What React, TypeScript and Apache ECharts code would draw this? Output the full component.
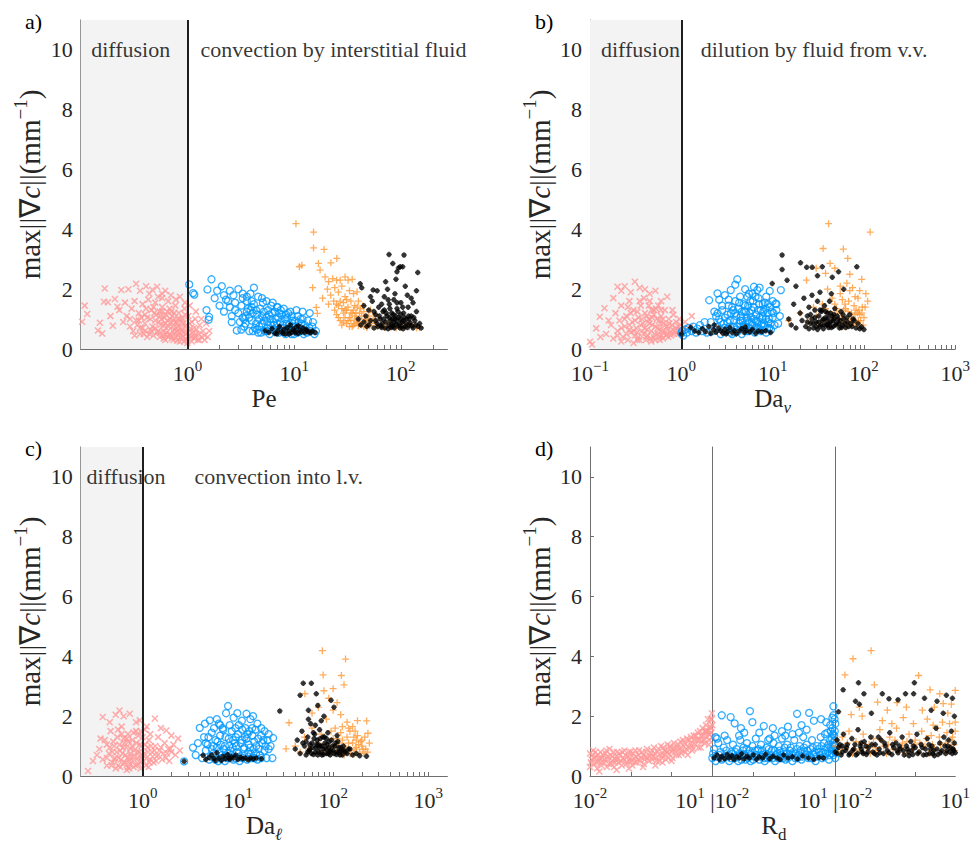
import React, { useEffect, useRef } from 'react';
import * as echarts from 'echarts';

const FONT = 'Liberation Serif';
const INK = '#262626';
const AXIS = '#6e6e6e';
const PINK = '#ff9999';
const BLUE = '#0099ff';
const ORANGE = '#ff9933';
const BLACK = '#000000';

// ---------- panel a : Pe ----------
const aPink = [[0.103,0.91],[0.109,1.45],[0.115,1.17],[0.168,2.02],[0.165,1.58],[0.18,1.56],[0.151,0.88],[0.159,0.52],[0.24,1.97],[0.209,1.67],[0.221,1.41],[0.145,0.62],[0.19,1.1],[0.2,0.78],[0.23,1.3],[0.26,1.55],[0.28,2.0],[0.33,2.18],[0.36,1.95],[0.41,2.1],[0.47,1.98],[0.52,2.08],[0.58,1.85],[0.62,1.95],[0.7,1.8],[0.78,1.65],[0.85,1.75],[0.95,1.55],[1.05,1.45],[1.2,1.25],[1.35,1.0],[1.5,0.85],[1.6,0.6],[1.45,0.45],[1.3,0.3],[1.15,0.35],
[0.25,0.9],[0.27,1.1],[0.29,0.75],[0.3,1.35],[0.31,0.6],[0.33,0.95],[0.35,1.2],[0.36,0.7],[0.38,1.5],[0.39,0.5],[0.4,0.85],[0.42,1.05],[0.43,1.65],[0.45,0.65],[0.46,1.3],[0.48,0.45],[0.5,0.95],[0.51,1.15],[0.53,1.75],[0.55,0.55],[0.56,0.8],[0.58,1.4],[0.6,0.35],[0.61,1.05],[0.63,0.7],[0.65,1.25],[0.66,1.6],[0.68,0.5],[0.7,0.9],[0.72,1.1],[0.74,0.3],[0.75,0.65],[0.77,1.45],[0.8,0.85],[0.82,0.45],[0.83,1.2],[0.85,0.25],[0.87,0.7],[0.9,1.0],[0.92,0.55],[0.94,1.35],[0.96,0.35],[0.98,0.8],[1.0,0.2],[1.02,1.1],[1.05,0.6],[1.08,0.4],[1.1,0.9],[1.15,0.7],[1.2,0.5],[1.25,0.3],[1.3,0.8],[1.4,0.6],[1.55,0.4],
[0.45,1.0],[0.5,0.7],[0.55,1.25],[0.6,0.6],[0.65,0.95],[0.7,0.45],[0.75,1.2],[0.8,0.6],[0.85,1.0],[0.9,0.4],[0.95,0.75],[1.0,0.55],[0.38,0.7],[0.42,0.4],[0.62,0.85],[0.72,0.75],[0.88,0.9],[0.78,0.4],[0.68,1.35],[0.57,1.0],[0.48,1.4],[0.35,0.95],[0.32,1.6],[0.44,1.85],[0.5,1.55],[0.58,1.7],[0.62,0.48],[1.1,0.25],[0.93,0.25],[0.8,0.28],[1.18,1.0],[1.05,0.85],
[0.32,0.45],[0.34,0.8],[0.37,1.05],[0.4,0.6],[0.41,1.35],[0.44,0.5],[0.47,0.75],[0.49,1.2],[0.52,0.55],[0.54,0.9],[0.56,1.1],[0.59,0.45],[0.6,0.8],[0.63,1.15],[0.64,0.55],[0.67,0.75],[0.69,1.0],[0.71,0.35],[0.73,0.6],[0.74,0.95],[0.76,0.5],[0.79,0.7],[0.81,1.0],[0.84,0.55],[0.86,0.38],[0.89,0.6],[0.91,0.85],[0.97,0.5],[0.99,0.3],[1.03,0.45],[1.07,0.7],[1.12,0.55],[1.17,0.4],[1.22,0.65],[1.28,0.5],[1.35,0.4],[1.45,0.3],[0.53,0.6],[0.66,0.4],[0.58,1.25],[0.46,0.6],[0.36,0.5],[0.29,1.0],[0.71,1.25],[0.82,0.75],[0.95,1.15],[0.4,1.15],[0.55,0.4],[0.78,0.9],[0.62,0.3]];

const aBlue = [[1.04,2.16],[1.13,1.87],[1.16,1.82],[1.51,1.3],[1.6,1.07],[1.58,0.98],[1.68,2.33],[1.54,1.99],[1.8,1.7],[1.9,1.95],[2.1,2.1],[2.3,1.65],[2.0,1.45],[2.2,1.25],[2.5,1.95],[2.7,1.8],[2.8,1.55],[2.5,1.4],[2.9,0.62],[2.6,0.9],[3.0,2.0],[3.3,1.85],[3.6,1.75],[4.2,2.05],[4.0,1.6],[5.0,1.7],[5.5,1.6],[6.3,1.55],[7.0,1.4],[8.0,1.35],[9.2,1.25],[10.5,1.3],[12.0,1.25],[14.0,1.2],[15.0,0.9],[16.0,0.6],[15.5,0.5],
[3.0,1.2],[3.1,0.9],[3.2,1.45],[3.4,0.75],[3.5,1.1],[3.6,1.6],[3.8,0.6],[3.9,1.3],[4.0,0.95],[4.2,1.5],[4.3,0.7],[4.5,1.15],[4.6,0.55],[4.8,1.35],[5.0,0.85],[5.1,1.55],[5.3,0.6],[5.5,1.05],[5.7,1.3],[5.9,0.5],[6.0,0.8],[6.2,1.2],[6.5,0.65],[6.7,1.0],[6.9,1.4],[7.2,0.55],[7.4,0.9],[7.7,1.15],[8.0,0.7],[8.3,0.5],[8.6,1.05],[9.0,0.8],[9.3,0.6],[9.6,0.95],[10.0,0.5],[10.4,0.75],[10.8,1.1],[11.2,0.6],[11.7,0.85],[12.3,0.5],[12.8,0.7],[13.5,0.95],[14.2,0.6],[14.8,0.75],[2.6,1.1],[2.8,1.3],[3.3,1.7],[3.7,1.35],[4.1,1.2],[4.4,0.85],[4.7,1.0],[5.2,1.25],[5.6,0.7],[6.1,1.45],[6.6,1.25],[7.0,0.85],[7.5,1.3],[8.2,1.0],[8.8,1.2],[9.5,1.1],[10.2,0.95],[11.0,0.9],[12.0,1.0],[3.4,1.0],[2.4,1.6],[2.2,1.8],[3.9,1.85],[4.6,1.75],
[3.2,0.65],[3.5,0.85],[3.8,1.05],[4.1,0.6],[4.4,1.3],[4.7,0.75],[4.9,0.55],[5.2,0.95],[5.4,0.6],[5.8,1.15],[6.1,0.65],[6.4,0.9],[6.8,0.6],[7.1,1.05],[7.5,0.6],[7.8,0.8],[8.1,0.55],[8.5,0.85],[8.9,0.65],[9.4,0.5],[9.8,0.75],[10.3,0.65],[10.7,0.55],[11.4,0.7],[12.0,0.6],[12.6,0.8],[13.2,0.55],[13.9,0.7],[4.0,1.4],[5.0,1.1],[6.0,1.0],[7.3,1.2],[8.4,1.15],[9.7,0.85],[11.5,1.0],[3.6,1.25],[4.5,0.65],[5.6,0.9],[6.5,0.8],[3.3,1.05]];

const aBlackLow = [[5.35,0.61],[5.8,0.55],[6.2,0.68],[6.6,0.52],[7.0,0.62],[7.3,0.75],[7.6,0.57],[8.0,0.66],[8.3,0.5],[8.6,0.72],[8.9,0.6],[9.2,0.8],[9.5,0.55],[9.8,0.67],[10.1,0.6],[10.5,0.74],[10.9,0.52],[11.3,0.63],[11.7,0.57],[12.1,0.7],[12.6,0.55],[13.1,0.62],[13.6,0.58],[14.2,0.54],[14.8,0.6],[15.7,0.55],[6.9,0.5],[7.9,0.53],[9.0,0.5],[10.3,0.54],[11.0,0.78],[12.9,0.66]];

const aOrange = [[10.4,4.19],[15.2,3.91],[15.2,3.38],[19.1,3.33],[11.2,2.75],[11.8,2.8],[16.9,2.86],[22.1,2.88],[25.1,3.03],[17.5,2.64],[14.9,2.05],[16.1,1.39],[16.5,1.19],
[19.5,2.41],[21,2.25],[23,2.35],[25,2.3],[27,2.3],[30,2.41],[32,2.3],[35,2.33],[20.5,2.0],[22,1.8],[24,2.05],[26,1.9],[28,2.1],[30,1.75],[33,1.95],[36,1.85],[38.9,1.91],[18.5,1.7],[21,1.5],[23.5,1.6],[26,1.45],[29,1.55],[31,1.3],[34,1.6],[37,1.45],[40,1.6],[42,1.35],[45,1.25],
[25,1.15],[27,0.95],[29,1.2],[31,0.85],[33,1.05],[35,0.75],[37,1.1],[39,0.9],[41,1.2],[43,0.8],[46,1.0],[48,0.72],[50,1.1],[53,0.85],[56,0.95],[60,0.75],[65,0.8],[70,0.72],[80,0.75],[90,0.7],[100,0.72],[120,0.74],[140,0.7],[150,0.72],[28,1.35],[32,1.4],[36,1.3],[44,1.45],[52,1.3],[58,1.15],[30,1.05],[34,0.95],[38,1.2],[47,0.9],[55,1.0],[75,0.9],[110,0.85],[130,0.8],[24,1.3],[40,0.78],
[26,1.05],[28,0.8],[30,1.3],[32,0.95],[34,1.2],[36,0.8],[38,1.0],[41,0.9],[43,1.1],[45,0.75],[49,0.95],[51,0.78],[27,1.6],[31,1.65],[35,1.2],[39,1.4],[25,1.5],[29,0.9],[33,0.75],[37,0.85]];

const aBlackHigh = [[77.5,3.16],[107,3.14],[84,2.86],[95,2.71],[98.5,2.75],[104,2.75],[144,2.56],[92,2.58],[90,2.33],[72,2.25],[41.6,2.18],[43,2.05],[55,1.97],
[40,1.0],[42,0.8],[45,1.45],[47,1.1],[48,0.75],[50,1.3],[52,0.95],[54,1.6],[56,0.7],[58,1.15],[60,0.85],[62,1.4],[64,1.0],[66,0.72],[68,1.25],[70,1.75],[72,0.9],[74,1.1],[76,0.68],[78,1.5],[80,0.95],[82,1.2],[84,0.75],[86,1.65],[88,1.0],[90,0.82],[92,1.35],[95,1.05],[98,0.7],[100,1.55],[103,0.9],[106,1.2],[110,0.75],[113,1.0],[117,1.4],[120,0.8],[125,1.1],[130,0.7],[135,0.95],[140,1.25],[145,0.75],[150,0.85],[155,0.7],[60,1.95],[75,2.0],[88,1.85],[115,1.8],[130,1.55],[65,0.78],[82,0.82],[95,0.78],[105,0.68],[70,1.3],[78,1.05],[86,0.88],[56,1.25],[50,0.8],[45,0.9],[100,1.15],[120,1.0],[52,1.75],[110,2.1],[125,1.7],[140,1.95],
[58,0.95],[61,0.75],[63,1.1],[67,0.85],[69,1.0],[71,0.7],[73,1.2],[77,0.8],[79,1.35],[81,0.72],[83,1.0],[85,1.15],[87,0.7],[89,1.1],[91,0.95],[94,1.25],[97,0.85],[99,1.0],[102,0.75],[105,0.95],[108,1.05],[112,0.85],[115,0.72],[118,1.1],[122,0.88],[127,0.78],[132,1.05],[138,0.8],[66,1.5],[92,1.55],[104,1.4],[76,1.65]];

// ---------- panel b : Da_v ----------
const bPink = [[0.1,0.24],[0.117,0.69],[0.128,1.08],[0.144,1.36],[0.2,2.08],[0.105,0.15],[0.13,0.4],[0.16,0.95],[0.18,1.7],[0.22,1.95],[0.24,2.1],[0.31,2.25],[0.28,1.9],[0.35,2.05],[0.4,2.0],[0.45,1.85],[0.52,1.95],[0.6,1.6],[0.7,1.75],[0.8,1.3],[0.95,1.0],[1.1,0.9],[1.25,0.75],[1.3,1.1],
[0.15,0.5],[0.17,0.8],[0.18,0.35],[0.19,1.2],[0.2,0.6],[0.21,0.95],[0.22,1.45],[0.23,0.4],[0.24,0.75],[0.25,1.1],[0.26,0.3],[0.27,1.6],[0.28,0.55],[0.29,0.9],[0.3,1.3],[0.31,0.45],[0.32,0.7],[0.34,1.05],[0.35,0.3],[0.36,1.45],[0.37,0.6],[0.38,0.85],[0.4,1.2],[0.41,0.4],[0.42,0.65],[0.44,1.0],[0.45,1.6],[0.46,0.35],[0.48,0.8],[0.5,1.15],[0.51,0.5],[0.53,1.35],[0.55,0.7],[0.57,0.95],[0.58,0.4],[0.6,1.1],[0.62,0.6],[0.64,0.85],[0.66,1.3],[0.68,0.45],[0.7,0.75],[0.73,1.0],[0.76,0.55],[0.79,0.8],[0.82,1.15],[0.85,0.6],[0.88,0.9],[0.9,0.5],[0.93,0.75],[0.96,0.65],[1.0,0.55],[1.05,0.7],[1.15,0.65],[1.2,0.6],[0.33,0.55],[0.43,0.9],[0.47,1.3],[0.52,0.3],[0.56,1.45],[0.63,0.35],[0.27,0.65],[0.39,1.7],[0.3,0.2],[0.22,0.25],
[0.2,0.45],[0.22,0.7],[0.24,1.0],[0.25,0.5],[0.27,0.8],[0.28,1.2],[0.3,0.6],[0.31,0.95],[0.33,1.25],[0.34,0.4],[0.36,0.8],[0.37,1.0],[0.39,0.5],[0.4,0.7],[0.42,1.1],[0.43,0.45],[0.45,0.85],[0.47,0.6],[0.48,1.05],[0.5,0.4],[0.52,0.75],[0.54,1.0],[0.55,0.5],[0.57,0.65],[0.59,0.85],[0.61,0.45],[0.63,1.0],[0.65,0.6],[0.67,0.8],[0.69,0.5],[0.72,0.65],[0.74,0.85],[0.77,0.45],[0.8,0.65],[0.83,0.5],[0.87,0.7],[0.92,0.6],[0.98,0.8],[0.26,1.4],[0.35,1.6],[0.44,1.45],[0.5,1.3],[0.6,1.3],[0.41,0.3],[0.47,0.25],[0.58,0.3],[0.72,0.4],[0.33,0.3]];

const bBlue = [[1.0,0.52],[1.02,0.6],[1.05,0.45],[1.1,0.65],[1.15,0.55],[1.2,0.7],[1.3,0.6],[1.35,0.75],[1.45,0.55],[1.5,0.68],[1.6,0.8],[1.7,0.6],[1.8,0.9],[1.9,0.55],
[2.02,1.63],[2.49,1.86],[3.48,1.97],[4.1,2.33],[3.9,2.15],[6.25,2.08],[6.8,1.97],[7.2,2.05],[9.3,1.94],[12.3,1.97],[10.8,1.52],[11.5,0.85],[2.3,1.25],[2.6,1.65],[3.0,1.8],[2.8,1.45],[5.0,2.0],[5.5,1.85],[8.5,1.75],[10,1.6],[11.0,1.3],[12,1.1],
[2.1,0.9],[2.2,0.6],[2.4,1.1],[2.5,0.75],[2.7,0.5],[2.8,1.3],[2.9,0.85],[3.0,1.05],[3.1,0.6],[3.3,1.45],[3.4,0.75],[3.5,1.2],[3.6,0.5],[3.8,0.95],[3.9,1.6],[4.0,0.65],[4.2,1.35],[4.3,0.85],[4.5,1.1],[4.6,0.5],[4.8,1.5],[5.0,0.75],[5.1,1.25],[5.3,0.95],[5.5,0.6],[5.7,1.6],[5.8,1.05],[6.0,0.8],[6.2,1.4],[6.4,0.55],[6.6,1.15],[6.8,0.9],[7.0,1.7],[7.2,0.65],[7.4,1.3],[7.7,1.0],[8.0,0.75],[8.2,1.55],[8.5,0.55],[8.8,1.2],[9.0,0.9],[9.3,1.4],[9.6,0.65],[10.0,1.05],[10.5,0.8],[11.0,1.5],[2.6,1.0],[3.2,0.9],[3.7,1.3],[4.4,1.75],[4.7,0.95],[5.2,0.6],[5.9,1.3],[6.3,1.0],[6.9,0.7],[7.5,0.8],[7.9,1.25],[8.4,1.0],[9.2,0.7],[9.8,1.25],[4.9,1.25],[3.5,0.55],[6.5,1.75],[5.4,1.45],[7.8,1.5],
[2.5,1.2],[2.7,0.9],[3.0,0.7],[3.2,1.15],[3.4,0.95],[3.6,1.4],[3.8,0.75],[4.0,1.1],[4.2,0.6],[4.4,0.95],[4.6,1.25],[4.8,0.8],[5.0,1.45],[5.2,1.05],[5.4,0.7],[5.6,1.2],[5.9,0.9],[6.1,1.6],[6.3,0.65],[6.6,0.95],[6.9,1.3],[7.2,1.05],[7.5,0.6],[7.8,1.1],[8.1,0.85],[8.4,1.35],[8.7,0.7],[9.1,1.0],[9.5,0.85],[10.2,1.2],[4.3,1.55],[5.3,1.75],[6.0,1.85],[3.3,1.65],[7.1,1.5],[8.9,1.5],[4.1,0.75],[5.5,0.9],[6.7,0.75],[3.9,1.2]];

const bBlackLow = [[1.0,0.5],[1.27,0.72],[1.4,0.6],[1.55,0.55],[1.7,0.68],[1.85,0.58],[2.0,0.75],[2.1,0.52],[2.25,0.64],[2.4,0.56],[2.55,0.7],[2.7,0.6],[2.85,0.53],[3.0,0.66],[3.2,0.58],[3.4,0.72],[3.6,0.55],[3.8,0.62],[4.0,0.5],[4.3,0.6],[4.6,0.68],[4.9,0.55],[5.2,0.62],[5.6,0.57],[6.0,0.65],[6.5,0.53],[7.0,0.6],[7.6,0.58],[8.4,0.61],[9.5,0.55],[2.3,0.8],[3.1,0.5],[5.0,0.74]];

const bOrange = [[41,4.19],[117,3.91],[35.7,3.36],[59.5,3.34],[66.5,3.03],[42.6,2.86],[38,2.53],[94.5,2.33],[23.5,2.3],[48,2.7],[70,2.5],[30,2.7],[105,1.85],[103,1.4],[110,1.6],[90,1.95],
[30,1.1],[32,0.8],[35,1.5],[37,0.95],[40,1.25],[42,0.75],[45,1.7],[47,1.0],[50,1.35],[52,0.8],[55,1.85],[57,1.1],[60,0.9],[62,1.5],[65,0.75],[67,1.25],[70,1.95],[72,1.0],[75,0.8],[78,1.45],[80,1.15],[83,0.85],[86,1.7],[88,1.3],[92,0.95],[95,1.2],[98,0.8],[100,1.05],[55,2.1],[65,2.2],[75,2.05],[85,1.2],[60,1.3],[48,1.5],[40,2.0],[28,1.4],[25,0.9],[20,1.2],[15,0.95],
[52,1.2],[58,1.0],[63,1.35],[68,0.9],[73,1.2],[77,1.0],[82,1.3],[87,0.95],[90,1.15],[96,1.4],[58,1.65],[68,1.6],[80,1.75],[45,1.15],[38,1.35]];

const bBlackHigh = [[12.7,3.14],[12.7,2.66],[9.9,2.19],[20.2,2.88],[23.6,2.73],[27.1,2.73],[14.4,2.3],[83.5,2.75],[52.7,2.58],[35,2.75],[31,2.45],[45,2.4],[18,2.1],[60,2.0],
[15,1.0],[16,0.8],[17,1.5],[18,0.7],[20,1.2],[21,0.95],[22,1.7],[23,0.75],[24,1.1],[25,1.4],[26,0.85],[27,1.0],[28,0.7],[29,1.3],[30,0.9],[31,1.6],[32,1.1],[33,0.75],[34,1.25],[35,0.95],[36,0.68],[37,1.45],[38,1.05],[39,0.8],[40,1.2],[41,0.72],[42,1.6],[43,0.9],[45,1.1],[46,0.75],[48,1.35],[50,0.85],[52,1.0],[54,0.7],[56,1.25],[58,0.8],[60,1.0],[63,0.72],[66,0.9],[70,1.15],[74,0.75],[78,0.95],[82,0.7],[86,0.85],[90,0.68],[94,0.74],[100,0.65],[27,1.8],[33,1.9],[44,1.85],[25,0.68],[35,1.3],[31,0.65],[47,1.0],
[24,0.9],[26,1.15],[28,0.85],[29,1.05],[30,0.75],[32,0.9],[33,1.3],[34,0.8],[36,1.0],[37,0.8],[38,1.25],[39,0.95],[40,0.8],[41,1.05],[42,0.85],[43,1.2],[44,0.72],[46,0.95],[47,1.15],[49,0.8],[51,1.1],[53,0.85],[55,0.95],[57,0.72],[59,1.15],[62,0.85],[65,1.05],[68,0.75],[72,0.85],[76,1.0]];

// ---------- panel c : Da_l ----------
const cPink = [[0.266,0.17],[0.3,0.5],[0.33,0.7],[0.36,1.25],[0.38,1.97],[0.45,1.8],[0.52,2.05],[0.57,2.19],[0.63,2.0],[0.73,2.08],[0.85,1.8],[0.93,1.86],[1.1,1.65],[1.34,1.92],[1.55,1.6],[1.77,1.52],[2.0,1.35],[2.35,1.25],[2.45,0.85],[2.2,0.7],[1.9,0.5],
[0.35,0.9],[0.38,0.55],[0.4,1.2],[0.42,0.35],[0.44,0.75],[0.46,1.5],[0.48,0.45],[0.5,1.0],[0.52,0.25],[0.54,1.3],[0.56,0.6],[0.58,0.85],[0.6,1.65],[0.62,0.4],[0.64,1.1],[0.66,0.7],[0.68,0.2],[0.7,1.4],[0.72,0.5],[0.75,0.9],[0.78,1.2],[0.8,0.3],[0.82,0.65],[0.85,1.5],[0.88,0.8],[0.9,0.4],[0.93,1.05],[0.96,0.6],[1.0,1.3],[1.04,0.75],[1.08,0.35],[1.12,0.95],[1.16,1.2],[1.2,0.55],[1.25,0.8],[1.3,0.45],[1.35,1.0],[1.4,0.65],[1.5,0.85],[1.6,0.55],[1.7,1.1],[1.8,0.75],[1.95,0.9],[0.48,0.8],[0.55,1.55],[0.62,0.95],[0.68,1.25],[0.76,0.65],[0.9,1.35],[1.05,1.55],[0.42,1.05],[0.58,0.3],[0.72,0.25],[0.95,0.25],[1.15,0.3],[1.45,1.3],[2.1,1.05],
[0.42,0.6],[0.45,0.95],[0.47,0.35],[0.49,1.15],[0.51,0.6],[0.53,0.8],[0.55,0.35],[0.57,1.05],[0.59,0.55],[0.61,0.75],[0.63,1.25],[0.65,0.45],[0.67,0.95],[0.69,0.6],[0.71,1.15],[0.73,0.4],[0.74,0.75],[0.77,1.0],[0.79,0.5],[0.81,0.85],[0.84,0.35],[0.86,1.1],[0.89,0.6],[0.92,0.8],[0.94,0.45],[0.97,1.0],[0.99,0.7],[1.02,0.5],[1.06,1.05],[1.1,0.6],[1.14,0.8],[1.18,0.45],[1.22,1.0],[1.27,0.65],[1.33,0.85],[1.38,0.5],[1.45,0.7],[1.55,0.95],[1.65,0.75],[1.75,0.6],[1.85,0.9],[2.0,0.8],[0.6,1.4],[0.8,1.45],[0.7,0.3],[0.5,0.55],[1.2,1.4],[0.95,1.5]];

const cBlue = [[2.72,0.49],[3.37,0.95],[3.6,0.7],[3.97,1.61],[5.06,1.86],[7.87,2.34],[7.5,2.1],[9.85,2.1],[12.3,2.08],[14.4,2.0],[13.5,1.9],[17.6,1.6],[23.4,1.27],[23,0.6],[21,1.4],[22,1.0],[4.5,1.75],[6,1.9],[6.5,1.7],[9,1.95],[11,1.85],[16,1.75],[19,1.5],[3.8,1.1],
[4.2,0.6],[4.4,1.3],[4.6,0.85],[4.8,1.05],[5.0,0.55],[5.3,1.45],[5.5,0.75],[5.8,1.2],[6.0,0.95],[6.2,0.5],[6.5,1.35],[6.8,0.7],[7.0,1.55],[7.3,1.0],[7.6,0.6],[8.0,1.25],[8.3,0.85],[8.6,1.5],[9.0,0.55],[9.3,1.1],[9.7,0.8],[10,1.4],[10.5,0.65],[11,1.2],[11.5,0.9],[12,1.6],[12.5,0.55],[13,1.05],[13.6,0.75],[14.2,1.35],[15,0.6],[15.6,1.0],[16.3,1.25],[17,0.7],[18,1.1],[19,0.85],[20,0.6],[21,0.9],[5.6,1.6],[6.6,1.05],[8.8,0.95],[10.2,1.7],[11.8,1.3],[13.2,1.5],[15.3,1.55],[17.5,1.35],[7.8,0.75],[12.8,0.8],[9.5,1.3],[14.6,0.9],[6.3,1.75],[4.9,1.3],
[5.2,0.65],[5.5,1.0],[5.8,0.55],[6.1,1.15],[6.4,0.8],[6.7,0.6],[7.1,0.9],[7.4,1.3],[7.7,0.65],[8.1,1.0],[8.5,0.7],[8.9,1.2],[9.2,0.6],[9.6,1.0],[10.1,0.75],[10.7,1.1],[11.2,0.6],[11.7,0.95],[12.3,1.25],[12.9,0.65],[13.4,0.95],[14.0,0.6],[14.8,1.15],[15.5,0.75],[16.5,0.9],[17.5,0.6],[18.5,1.2],[19.5,1.0],[6.9,1.6],[8.2,1.7],[9.4,1.6],[11.1,1.55],[12.6,1.4],[14.1,1.6],[5.3,0.9],[7.3,0.5],[10.4,0.5],[16.0,0.55],[4.6,1.1],[20.5,1.2]];

const cBlackLow = [[2.72,0.49],[4.3,0.69],[4.6,0.55],[5.0,0.62],[5.3,0.7],[5.6,0.58],[6.0,0.78],[6.3,0.6],[6.7,0.52],[7.0,0.66],[7.4,0.58],[7.8,0.72],[8.2,0.55],[8.6,0.64],[9.0,0.6],[9.5,0.7],[10,0.55],[10.6,0.63],[11.2,0.58],[12,0.6],[12.8,0.54],[13.6,0.6],[14.5,0.57],[15.5,0.6],[17.6,0.58],[5.8,0.52],[8.0,0.6]];

const cOrange = [[77,4.19],[135,3.91],[78.5,3.38],[122,3.36],[130,3.05],[100,2.92],[50.5,2.75],[80,2.85],[90,2.6],[110,2.45],[34.4,1.78],[32,0.91],[225,1.84],[232,1.43],[180,1.85],[160,1.65],[200,1.2],[240,1.1],
[40,1.0],[45,0.8],[50,1.3],[55,0.9],[60,1.6],[65,0.75],[70,1.1],[75,1.4],[80,0.85],[85,1.9],[90,1.0],[95,0.75],[100,1.25],[105,1.6],[110,0.85],[115,1.1],[120,1.45],[125,0.8],[130,1.0],[140,1.3],[150,0.75],[160,1.1],[170,0.9],[180,1.35],[190,0.8],[200,1.0],[210,0.75],[220,0.9],[140,1.8],[120,2.05],[100,2.2],[95,1.5],[150,1.5],[175,1.2],[70,2.3],[60,2.1],[110,1.25],[130,0.7],[165,0.72],[185,1.05],
[105,1.0],[115,0.75],[125,1.2],[135,0.9],[145,1.1],[155,0.85],[165,1.3],[175,0.95],[195,1.15],[205,0.9],[215,1.3],[145,1.6],[170,1.5],[125,1.65],[230,0.8]];

const cBlackHigh = [[27.5,2.17],[48.5,3.1],[59,3.1],[66.5,2.75],[45,2.7],[95,2.53],[102,2.3],[69,2.36],[55,2.2],[80,2.0],
[40,0.9],[42,1.2],[45,0.75],[47,1.5],[50,1.0],[52,0.7],[54,1.3],[56,0.85],[58,1.75],[60,1.1],[62,0.72],[64,1.4],[66,0.95],[68,1.2],[70,0.8],[72,1.55],[74,1.0],[76,0.7],[78,1.3],[80,0.9],[82,1.1],[85,0.75],[88,1.45],[90,0.95],[93,0.7],[96,1.2],[100,0.85],[104,1.0],[108,0.72],[112,1.15],[116,0.8],[120,0.95],[125,0.7],[130,0.85],[140,0.75],[150,0.9],[160,0.7],[175,0.75],[190,0.68],[224,0.66],[55,1.9],[65,1.7],[75,1.85],[62,1.45],[85,1.25],[48,1.1],[70,1.05],[92,0.82],[110,1.35],[57,0.9],
[52,1.15],[54,0.8],[57,1.05],[59,0.75],[61,0.95],[63,1.25],[65,0.8],[67,1.05],[69,0.7],[71,0.95],[73,1.25],[75,0.8],[77,1.0],[79,0.72],[81,1.3],[84,0.9],[86,1.05],[89,0.75],[91,1.15],[94,0.85],[98,1.0],[102,0.75],[106,1.1],[110,0.8],[114,0.95],[118,0.7],[123,0.85],[128,1.0],[135,0.8],[145,0.9]];

// ---------- panel d : R_d (three sub-ranges) ----------
const dPink = [[0.01,0.3],[0.01,0.75],[0.011,0.55],[0.012,0.85],[0.013,0.4],[0.014,0.65],[0.015,0.25],[0.016,0.5],[0.018,0.8],[0.019,0.35],[0.02,0.6],[0.022,0.45],[0.024,0.75],[0.026,0.3],[0.028,0.55],[0.03,0.9],[0.033,0.4],[0.036,0.65],[0.039,0.3],[0.042,0.55],[0.046,0.8],[0.05,0.45],[0.055,0.7],[0.06,0.35],[0.065,0.6],[0.07,0.85],[0.077,0.4],[0.085,0.65],[0.093,0.5],[0.1,0.8],[0.11,0.35],[0.12,0.6],[0.13,0.85],[0.14,0.45],[0.155,0.7],[0.17,0.5],[0.19,0.8],[0.21,0.4],[0.23,0.65],[0.25,0.9],[0.28,0.5],[0.31,0.75],[0.34,0.55],[0.37,0.95],[0.41,0.6],[0.45,0.8],[0.5,0.5],[0.55,1.0],[0.6,0.7],[0.66,0.85],[0.72,0.55],[0.8,1.05],[0.88,0.75],[0.96,0.9],[1.05,0.6],[1.15,1.1],[1.25,0.8],[1.4,0.95],[1.5,0.7],[1.65,1.15],[1.8,0.85],[2.0,1.0],[2.2,0.8],[2.4,1.25],[2.6,0.95],[2.9,1.1],[3.2,0.85],[3.5,1.35],[3.8,1.05],[4.2,1.2],[4.6,0.95],[5.0,1.5],[5.5,1.15],[6.0,1.35],[6.5,1.1],[7.0,1.7],[7.5,1.3],[8.0,1.5],[8.5,1.2],[9.0,1.9],[9.5,1.45],[10,1.7],[9.8,2.1],[8.8,1.65],[7.8,1.9],[6.8,1.5],[5.8,1.6],[4.4,1.45],[3.0,1.3],[1.9,1.2],[1.2,0.95],[0.7,0.85],[0.4,0.35],[0.2,0.3],[0.09,0.25],[0.045,0.2],[0.017,0.15],[0.6,0.45],[1.0,0.5],[2.5,0.7],[5.2,0.95],[8.2,1.05],
[0.0105,0.45],[0.0115,0.7],[0.0125,0.6],[0.0135,0.8],[0.0145,0.45],[0.0155,0.7],[0.017,0.6],[0.0185,0.45],[0.021,0.7],[0.023,0.55],[0.025,0.85],[0.027,0.65],[0.029,0.4],[0.032,0.7],[0.035,0.5],[0.038,0.8],[0.041,0.45],[0.044,0.65],[0.048,0.55],[0.052,0.75],[0.057,0.5],[0.062,0.8],[0.068,0.55],[0.074,0.7],[0.081,0.45],[0.089,0.8],[0.097,0.6],[0.105,0.5],[0.115,0.75],[0.125,0.45],[0.135,0.65],[0.15,0.55],[0.16,0.85],[0.18,0.6],[0.2,0.7],[0.22,0.55],[0.24,0.8],[0.26,0.6],[0.3,0.65],[0.33,0.85],[0.36,0.65],[0.39,0.75],[0.43,0.5],[0.48,0.9],[0.52,0.7],[0.58,0.6],[0.63,0.95],[0.69,0.7],[0.76,0.8],[0.84,0.6],[0.92,1.0],[1.0,0.8],[1.1,0.9],[1.3,0.7],[1.45,1.05],[1.6,0.9],[1.75,0.75],[2.1,1.1],[2.3,0.9],[2.75,1.2],[3.1,1.0],[3.4,0.9],[3.65,1.2],[4.0,1.35],[4.8,1.2],[5.3,1.35],[6.2,1.2],[6.7,1.45],[7.3,1.5],[8.3,1.4],[9.2,1.6],[9.7,1.9],[10,1.3]];

const dBlue = [[0.017,2.03],[0.028,1.97],[0.083,2.17],[0.095,1.8],[0.18,1.67],[1.17,2.08],[2.3,2.11],[9.0,2.33],[9.0,2.03],[0.035,1.76],[0.05,1.6],[0.012,1.3],[0.013,1.25],[0.3,1.6],[0.5,1.5],[0.7,1.65],[1.5,1.7],[3.0,1.85],[4.5,1.9],[6,1.8],[7.5,1.7],[8.5,1.95],[0.14,1.45],[0.06,1.45],[0.25,1.25],[0.9,1.4],[2.0,1.55],
[0.01,0.6],[0.011,0.9],[0.012,0.5],[0.014,1.1],[0.015,0.7],[0.017,0.55],[0.019,0.95],[0.021,0.65],[0.023,1.2],[0.026,0.5],[0.029,0.8],[0.032,1.05],[0.035,0.6],[0.039,0.9],[0.043,0.5],[0.048,1.2],[0.053,0.7],[0.058,0.95],[0.064,0.55],[0.07,1.1],[0.078,0.75],[0.086,0.5],[0.095,1.0],[0.105,0.65],[0.115,1.25],[0.127,0.85],[0.14,0.55],[0.155,1.05],[0.17,0.7],[0.19,0.5],[0.21,0.95],[0.23,1.2],[0.25,0.6],[0.28,0.85],[0.31,1.1],[0.34,0.5],[0.38,0.75],[0.42,1.0],[0.46,0.6],[0.5,1.25],[0.55,0.8],[0.61,0.55],[0.67,1.05],[0.74,0.7],[0.82,0.95],[0.9,0.5],[1.0,1.2],[1.1,0.75],[1.2,0.6],[1.35,1.0],[1.5,0.55],[1.65,1.3],[1.8,0.8],[2.0,1.05],[2.2,0.6],[2.45,0.9],[2.7,1.2],[3.0,0.7],[3.3,0.5],[3.6,1.0],[4.0,0.8],[4.4,1.3],[4.8,0.6],[5.3,1.1],[5.8,0.75],[6.4,1.45],[7.0,0.55],[7.5,1.2],[8.0,0.9],[8.5,1.6],[9.0,0.7],[9.4,1.35],[9.8,1.0],[10,1.75],[10,0.6],[9.6,1.9],[8.8,1.4],[7.8,1.5],[6.8,1.05],[5.6,1.4],[1.3,1.45],[0.6,1.35],[0.33,1.35],[0.045,1.35],[0.02,1.35],
[0.0105,0.75],[0.0125,0.65],[0.016,0.8],[0.018,0.6],[0.022,0.85],[0.025,0.7],[0.028,0.6],[0.031,0.75],[0.037,0.8],[0.041,0.65],[0.046,0.75],[0.051,0.55],[0.056,0.85],[0.062,0.7],[0.068,0.9],[0.075,0.6],[0.082,0.85],[0.09,0.7],[0.1,0.55],[0.11,0.85],[0.12,0.7],[0.135,0.9],[0.15,0.65],[0.165,0.85],[0.18,0.6],[0.2,0.75],[0.22,0.6],[0.24,0.9],[0.27,0.7],[0.3,0.6],[0.33,0.85],[0.36,0.7],[0.4,0.6],[0.44,0.85],[0.48,0.7],[0.53,0.6],[0.58,0.95],[0.64,0.75],[0.7,0.6],[0.78,0.85],[0.86,0.7],[0.95,0.8],[1.05,0.6],[1.15,0.9],[1.28,0.7],[1.42,0.85],[1.57,0.65],[1.72,0.95],[1.9,0.7],[2.1,0.85],[2.35,0.7],[2.6,0.6],[2.85,0.95],[3.15,0.8],[3.45,0.65],[3.8,0.9],[4.2,0.7],[4.6,1.0],[5.0,0.8],[5.5,0.65],[6.0,0.95],[6.6,0.8],[7.2,0.7],[7.7,0.95],[8.2,0.75],[8.7,1.1],[9.2,0.85],[9.6,1.2],[9.9,0.8],[9.7,1.5],[9.3,1.0],[8.3,1.25]];

const dBlackLow = [[0.011,0.6],[0.013,0.7],[0.015,0.55],[0.017,0.66],[0.02,0.58],[0.023,0.72],[0.026,0.6],[0.03,0.68],[0.034,0.55],[0.04,0.65],[0.046,0.6],[0.052,0.74],[0.06,0.57],[0.07,0.66],[0.08,0.6],[0.1,0.7],[0.12,0.56],[0.14,0.64],[0.17,0.6],[0.2,0.73],[0.25,0.58],[0.3,0.66],[0.38,0.6],[0.45,0.55],[0.55,0.7],[0.7,0.6],[0.9,0.64],[1.2,0.57],[1.6,0.67],[2.2,0.6],[3.0,0.55],[4.0,0.62],[5.1,0.6]];

const dOrange = [[0.0786,4.19],[0.0277,3.92],[0.0174,3.38],[1.21,3.36],[0.095,3.05],[2.35,2.88],[10,2.86],[4.1,2.75],[5.0,2.42],[0.04,2.3],[0.047,2.0],[0.114,2.47],[10,1.8],[0.2,2.2],[0.35,2.45],[0.6,2.3],[1.5,2.2],[3.0,2.3],[6.5,2.1],[8,2.4],[0.025,2.05],[0.15,1.85],[0.5,1.95],[2.0,1.9],[7.2,1.75],
[0.01,1.0],[0.012,0.8],[0.015,1.3],[0.018,0.9],[0.022,1.5],[0.027,0.75],[0.033,1.15],[0.04,0.85],[0.05,1.4],[0.06,0.95],[0.075,0.75],[0.09,1.25],[0.11,0.85],[0.13,1.55],[0.16,1.0],[0.19,0.75],[0.23,1.3],[0.28,0.9],[0.34,1.6],[0.4,0.8],[0.48,1.1],[0.58,0.75],[0.7,1.4],[0.85,0.9],[1.0,1.2],[1.2,0.78],[1.45,1.5],[1.75,1.0],[2.1,0.75],[2.5,1.35],[3.0,0.9],[3.6,1.6],[4.3,1.05],[5.2,0.8],[6.2,1.45],[7.4,0.95],[8.6,1.3],[9.6,0.85],[10,1.5],[4.8,1.8],[0.9,1.75],[0.26,1.75],[2.8,1.7],
[0.011,1.2],[0.014,0.95],[0.02,1.1],[0.03,0.9],[0.045,1.1],[0.07,1.05],[0.1,0.95],[0.14,1.2],[0.21,1.05],[0.31,1.2],[0.45,0.95],[0.62,1.15],[0.95,1.05],[1.3,1.1],[1.9,1.25],[2.7,1.05],[4.0,1.3],[5.7,1.1],[7.9,1.2],[9.2,1.05]];

const dBlackHigh = [[0.038,3.12],[0.95,3.12],[0.0157,2.88],[0.052,2.75],[0.032,2.5],[0.04,2.4],[0.15,2.75],[0.22,2.58],[0.57,2.75],[0.91,2.75],[0.37,2.55],[0.012,2.15],[1.7,2.6],[3.5,2.5],[6,2.7],[8.5,2.6],[2.5,2.2],[5,2.1],[9.5,2.0],[0.08,2.1],
[0.01,0.8],[0.011,1.2],[0.012,0.95],[0.014,0.7],[0.016,1.4],[0.018,0.85],[0.02,1.05],[0.023,0.75],[0.026,1.25],[0.029,0.9],[0.033,0.7],[0.037,1.55],[0.042,1.0],[0.047,0.8],[0.053,1.15],[0.06,0.72],[0.068,0.95],[0.077,1.3],[0.087,0.8],[0.1,1.05],[0.11,0.7],[0.125,0.9],[0.14,1.2],[0.16,0.75],[0.18,1.0],[0.2,0.85],[0.23,1.45],[0.26,0.72],[0.29,0.95],[0.33,1.1],[0.37,0.78],[0.42,0.9],[0.47,1.3],[0.53,0.7],[0.6,1.0],[0.68,0.8],[0.77,1.15],[0.87,0.72],[1.0,0.95],[1.1,1.4],[1.25,0.8],[1.4,1.05],[1.6,0.7],[1.8,0.9],[2.0,1.25],[2.3,0.75],[2.6,1.0],[2.9,0.85],[3.3,1.6],[3.7,0.72],[4.1,1.1],[4.6,0.85],[5.2,1.3],[5.8,0.75],[6.5,1.0],[7.2,0.8],[8.0,1.5],[8.8,0.9],[9.5,1.1],[10,0.78],[0.015,1.0],[0.045,0.9],[0.12,1.3],[0.35,0.85],[0.9,1.0],[2.4,0.9],[6.8,1.2],[0.7,0.68],[3.0,0.68],
[0.011,0.75],[0.013,1.05],[0.015,0.8],[0.019,0.95],[0.022,0.7],[0.027,0.85],[0.031,1.05],[0.036,0.75],[0.044,1.1],[0.05,0.75],[0.058,1.0],[0.065,0.8],[0.082,1.05],[0.095,0.75],[0.13,0.78],[0.17,1.1],[0.22,0.78],[0.27,1.05],[0.4,1.0],[0.5,0.85],[0.64,0.9],[0.82,0.85],[1.15,0.75],[1.5,0.95],[1.9,0.72],[2.2,1.05],[2.75,0.75],[3.5,0.9],[4.3,0.78],[5.5,1.0],[6.2,0.85],[7.6,0.95],[8.4,0.75],[9.2,0.85]];

// ---------- axis ticks / texts ----------
const yTickValues = [0, 2, 4, 6, 8, 10];
const aLabels = [1, 10, 100];
const bLabels = [0.1, 1, 10, 100, 1000];
const cLabels = [1, 10, 100, 1000];
const regionTexts = {
  a: [[0.124, 10, 'diffusion'], [1.315, 10, 'convection by interstitial fluid']],
  b: [[0.13, 10, 'diffusion'], [1.61, 10, 'dilution by fluid from v.v.']],
  c: [[0.254, 10, 'diffusion'], [3.46, 10, 'convection into l.v.']],
};

function logTicks(min: number, max: number) {
  const out: number[] = [];
  for (let e = -3; e <= 4; e++) {
    for (let m = 1; m <= 9; m++) {
      const v = +(m * Math.pow(10, e)).toPrecision(3);
      if (v >= min * 0.999 && v <= max * 1.001) out.push(v);
    }
  }
  return out;
}

const X_SYM = 'path://M0,0L10,10M10,0L0,10';
const PLUS_SYM = 'path://M5,0L5,10M0,5L10,5';
const STAR_SYM = 'path://M5,0L5,10M0,5L10,5M1.8,1.8L8.2,8.2M8.2,1.8L1.8,8.2';

const tickRich = {
  b: { fontSize: 22, fontFamily: FONT, color: INK, lineHeight: 26, verticalAlign: 'bottom' },
  s: { fontSize: 15, fontFamily: FONT, color: INK, lineHeight: 15, verticalAlign: 'top' },
};
const nameRich = {
  n: { fontSize: 25, fontFamily: FONT, color: INK, lineHeight: 30, verticalAlign: 'top' },
  sub: { fontSize: 17, fontFamily: FONT, color: INK, lineHeight: 14, verticalAlign: 'bottom', fontStyle: 'italic' },
  subr: { fontSize: 17, fontFamily: FONT, color: INK, lineHeight: 14, verticalAlign: 'bottom' },
};
const yNameRich = {
  n: { fontSize: 29, fontFamily: FONT, color: INK, lineHeight: 34, verticalAlign: 'bottom' },
  i: { fontSize: 29, fontFamily: FONT, color: INK, lineHeight: 34, verticalAlign: 'bottom', fontStyle: 'italic' },
  s: { fontSize: 19, fontFamily: FONT, color: INK, lineHeight: 19, verticalAlign: 'top' },
};
const Y_NAME = '{n|max||∇}{i|c}{n|||(mm}{s|−1}{n|)}';

const expLabel = (v: number) => {
  const e = Math.round(Math.log10(v));
  return `{b|10}{s|${e < 0 ? '−' + -e : e}}`;
};

function yAxis(gridIndex: number, withLabels: boolean) {
  return {
    type: 'value', gridIndex, min: 0, max: 11,
    axisLine: { show: true, onZero: false, lineStyle: { color: AXIS, width: 1 } },
    axisTick: { show: withLabels, inside: true, length: 4, customValues: yTickValues, lineStyle: { color: AXIS } },
    axisLabel: { show: withLabels, customValues: yTickValues, fontSize: 22, fontFamily: FONT, color: INK, margin: 8 },
    splitLine: { show: false },
    name: withLabels ? Y_NAME : '',
    nameLocation: 'middle', nameGap: 36, nameRotate: 90,
    nameTextStyle: { fontFamily: FONT, rich: yNameRich },
  };
}

function xAxis(gridIndex: number, min: number, max: number, labels: number[], ticks: number[], formatter: any, name: string) {
  return {
    type: 'log', logBase: 10, gridIndex, min, max,
    axisLine: { show: true, onZero: false, lineStyle: { color: AXIS, width: 1 } },
    axisTick: { show: true, inside: true, length: 4, customValues: ticks, lineStyle: { color: AXIS } },
    minorTick: { show: false },
    splitLine: { show: false },
    axisLabel: { show: true, customValues: labels, formatter, fontFamily: FONT, rich: tickRich, margin: 9 },
    name, nameLocation: 'middle', nameGap: 37,
    nameTextStyle: { fontFamily: FONT, rich: nameRich },
  };
}

function scat(data: number[][], idx: number, kind: string) {
  const base: any = { type: 'scatter', xAxisIndex: idx, yAxisIndex: idx, data, z: 3, silent: true };
  if (kind === 'pink') return { ...base, symbol: X_SYM, symbolSize: 6, itemStyle: { color: PINK, borderColor: PINK, borderWidth: 1.5 } };
  if (kind === 'blue') return { ...base, symbol: 'circle', symbolSize: 7, itemStyle: { color: 'rgba(0,0,0,0)', borderColor: BLUE, borderWidth: 1.3 } };
  if (kind === 'orange') return { ...base, symbol: PLUS_SYM, symbolSize: 7, itemStyle: { color: ORANGE, borderColor: ORANGE, borderWidth: 1.3 } };
  return { ...base, symbol: STAR_SYM, symbolSize: 5.5, z: 4, itemStyle: { color: BLACK, borderColor: BLACK, borderWidth: 1.5 } };
}

function regions(idx: number, texts: any[], shadeMin: number) {
  return {
    type: 'scatter', xAxisIndex: idx, yAxisIndex: idx, z: 1, silent: true,
    symbol: 'circle', symbolSize: 1, itemStyle: { color: 'rgba(0,0,0,0)' },
    data: texts.map((t) => ({ value: [t[0], t[1]], name: t[2] })),
    label: { show: true, position: 'right', distance: 0, formatter: '{b}', fontSize: 22, fontFamily: FONT, color: '#000' },
    markArea: { silent: true, itemStyle: { color: '#f3f3f3' }, data: [[{ xAxis: shadeMin }, { xAxis: 1 }]] },
    markLine: {
      silent: true, symbol: ['none', 'none'], label: { show: false },
      lineStyle: { color: '#1e1e1e', width: 2, type: 'solid' }, data: [{ xAxis: 1 }],
    },
  };
}

export default function App() {
  const ref = useRef<HTMLDivElement>(null);
  useEffect(() => {
    if (!ref.current) return;
    const chart = echarts.init(ref.current, undefined, { renderer: 'svg' });
    const dMid = '{b|10}{s|1}{b| |10}{s|-2}';
    const option: any = {
      animation: false,
      backgroundColor: '#ffffff',
      textStyle: { fontFamily: FONT },
      grid: [
        { left: 80.7, top: 20, width: 366.7, height: 329, containLabel: false },
        { left: 590, top: 20, width: 367, height: 329, containLabel: false },
        { left: 80.7, top: 447, width: 366.7, height: 329, containLabel: false },
        { left: 590, top: 447, width: 122.3, height: 329, containLabel: false },
        { left: 712.3, top: 447, width: 123, height: 329, containLabel: false },
        { left: 835.3, top: 447, width: 122, height: 329, containLabel: false },
      ],
      xAxis: [
        xAxis(0, 0.1, 273, aLabels, logTicks(0.1, 273), expLabel, '{n|Pe}'),
        xAxis(1, 0.1, 1000, bLabels, logTicks(0.1, 1000), expLabel, '{n|Da}{sub|v}'),
        xAxis(2, 0.223, 1585, cLabels, logTicks(0.223, 1585), expLabel, '{n|Da}{sub|ℓ}'),
        xAxis(3, 0.01, 10, [0.01], [0.1, 1], () => '{b|10}{s|-2}', ''),
        xAxis(4, 0.01, 10, [0.01], [0.1, 1], () => dMid, '{n|R}{subr|d}'),
        xAxis(5, 0.01, 10, [0.01, 10], [0.1, 1], (v: number) => (v < 1 ? dMid : '{b|10}{s|1}'), ''),
      ],
      yAxis: [yAxis(0, true), yAxis(1, true), yAxis(2, true), yAxis(3, true), yAxis(4, false), yAxis(5, false)],
      series: [
        regions(0, regionTexts.a, 0.1),
        scat(aPink, 0, 'pink'), scat(aBlue, 0, 'blue'), scat(aOrange, 0, 'orange'), scat(aBlackLow, 0, 'black'), scat(aBlackHigh, 0, 'black'),
        regions(1, regionTexts.b, 0.1),
        scat(bPink, 1, 'pink'), scat(bBlue, 1, 'blue'), scat(bOrange, 1, 'orange'), scat(bBlackLow, 1, 'black'), scat(bBlackHigh, 1, 'black'),
        regions(2, regionTexts.c, 0.223),
        scat(cPink, 2, 'pink'), scat(cBlue, 2, 'blue'), scat(cOrange, 2, 'orange'), scat(cBlackLow, 2, 'black'), scat(cBlackHigh, 2, 'black'),
        scat(dPink, 3, 'pink'),
        scat(dBlue, 4, 'blue'), scat(dBlackLow, 4, 'black'),
        scat(dOrange, 5, 'orange'), scat(dBlackHigh, 5, 'black'),
      ],
      graphic: [
        { type: 'text', left: 25, top: 10, style: { text: 'a)', fontSize: 22, fontFamily: FONT, fill: '#000' } },
        { type: 'text', left: 535, top: 10, style: { text: 'b)', fontSize: 22, fontFamily: FONT, fill: '#000' } },
        { type: 'text', left: 25, top: 437, style: { text: 'c)', fontSize: 22, fontFamily: FONT, fill: '#000' } },
        { type: 'text', left: 535, top: 437, style: { text: 'd)', fontSize: 22, fontFamily: FONT, fill: '#000' } },
      ],
    };
    chart.setOption(option);
    return () => chart.dispose();
  }, []);
  return <div ref={ref} style={{ position: 'fixed', left: 0, top: 0, width: 973, height: 853, background: '#fff' }} />;
}
